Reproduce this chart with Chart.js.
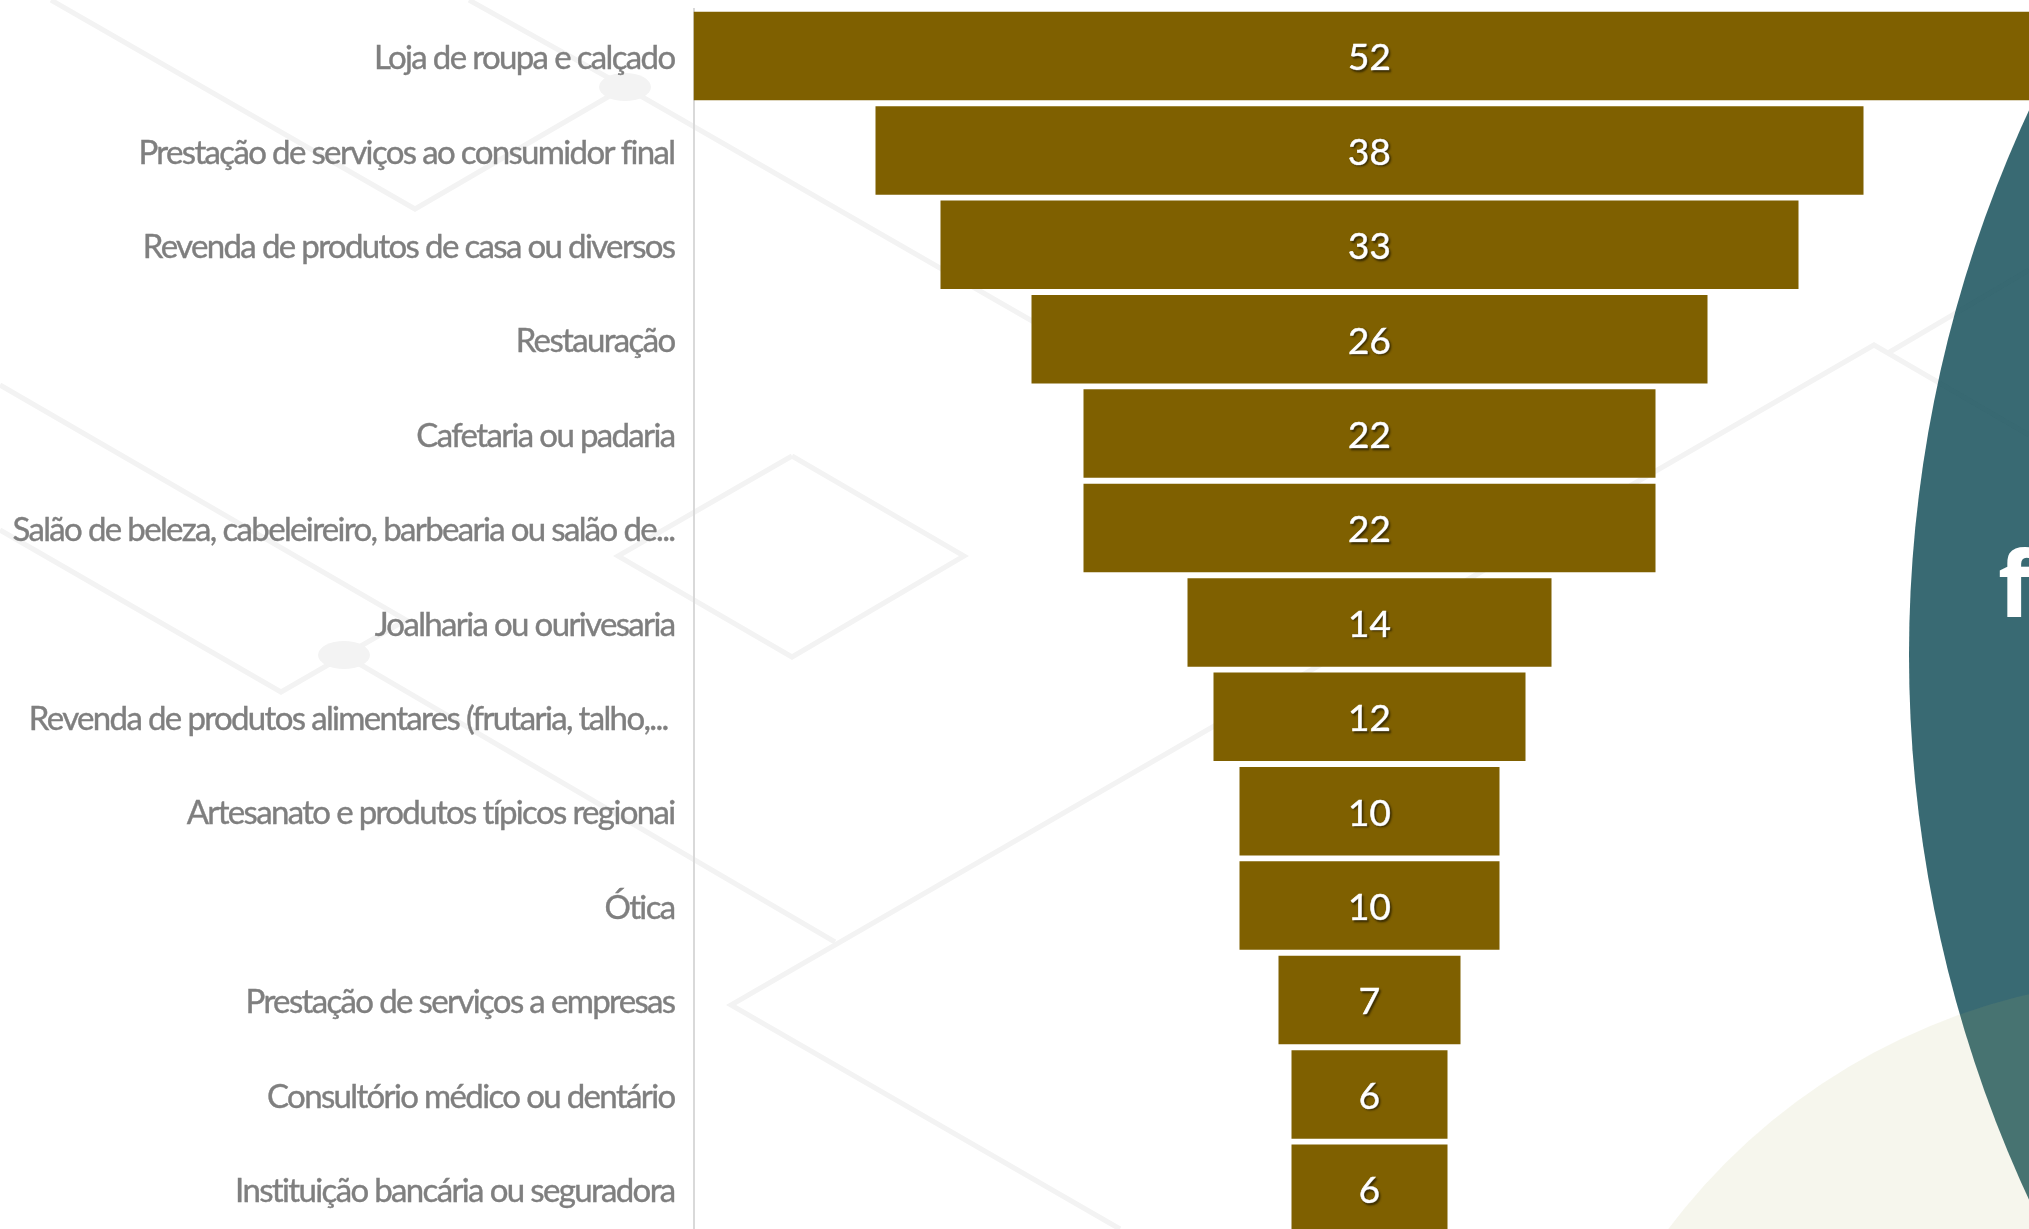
<!DOCTYPE html>
<html lang="pt">
<head>
<meta charset="utf-8">
<title>Funil</title>
<script src="https://cdn.jsdelivr.net/npm/chart.js@4"></script>
<style>
html, body { margin: 0; padding: 0; width: 2029px; height: 1229px; overflow: hidden; background: #fff; }
canvas { position: absolute; left: 0; top: 0; }
</style>
</head>
<body>
<canvas id="funnel-chart" width="2060" height="1250" style="width:2060px;height:1250px"></canvas>
<script>
const categories = [
    'Loja de roupa e calçado',
    'Prestação de serviços ao consumidor final',
    'Revenda de produtos de casa ou diversos',
    'Restauração',
    'Cafetaria ou padaria',
    'Salão de beleza, cabeleireiro, barbearia ou salão de...',
    'Joalharia ou ourivesaria',
    'Revenda de produtos alimentares (frutaria, talho,... ',
    'Artesanato e produtos típicos regionai',
    'Ótica',
    'Prestação de serviços a empresas',
    'Consultório médico ou dentário',
    'Instituição bancária ou seguradora'
];
const values = [52, 38, 33, 26, 22, 22, 14, 12, 10, 10, 7, 6, 6];

// page decoration behind the chart
const decorLines = [
    [[51, 0], [415, 209], [625, 87]],
    [[469, 0], [625, 87], [1100, 360]],
    [[0, 385], [406, 620], [281, 692], [0, 530]],
    [[344, 655], [835, 942]],
    [[1120, 1229], [731, 1005], [1874, 345], [2029, 435]],
    [[1888, 353], [2029, 270]],
    [[792, 456], [964, 556], [792, 657], [618, 556], [792, 456]]
];
const decorDots = [[625, 87], [344, 655]];

const decorPlugin = {
    id: 'decor',
    beforeDraw(chart) {
        const ctx = chart.ctx;
        ctx.save();
        ctx.strokeStyle = '#f3f3f3';
        ctx.lineWidth = 5;
        ctx.lineJoin = 'miter';
        decorLines.forEach(line => {
            ctx.beginPath();
            line.forEach(([x, y], i) => i ? ctx.lineTo(x, y) : ctx.moveTo(x, y));
            ctx.stroke();
        });
        ctx.fillStyle = '#f3f3f3';
        decorDots.forEach(([x, y]) => {
            ctx.beginPath();
            ctx.ellipse(x, y, 26, 14, 0, 0, Math.PI * 2);
            ctx.fill();
        });
        ctx.fillStyle = 'rgba(22, 80, 90, 0.85)';
        ctx.beginPath();
        ctx.arc(3206, 655, 1297, 0, Math.PI * 2);
        ctx.fill();
        ctx.fillStyle = 'rgba(180, 180, 100, 0.116)';
        ctx.beginPath();
        ctx.arc(2171, 1607, 629, 0, Math.PI * 2);
        ctx.fill();
        ctx.fillStyle = '#fff';
        ctx.font = 'bold 92px "Open Sans"';
        ctx.textAlign = 'left';
        ctx.textBaseline = 'alphabetic';
        ctx.fillText('f', 1998, 617);
        ctx.restore();
        ctx.letterSpacing = '-1.65px';
    }
};

const valueLabels = {
    id: 'valueLabels',
    afterDatasetsDraw(chart) {
        const ctx = chart.ctx;
        ctx.letterSpacing = '0px';
        ctx.save();
        ctx.font = '37px Lato';
        ctx.fillStyle = '#fff';
        ctx.strokeStyle = '#fff';
        ctx.lineWidth = 0.6;
        ctx.textAlign = 'center';
        ctx.textBaseline = 'middle';
        ctx.shadowColor = 'rgba(0, 0, 0, 0.5)';
        ctx.shadowOffsetX = 1.5;
        ctx.shadowOffsetY = 1.5;
        ctx.shadowBlur = 2;
        chart.getDatasetMeta(0).data.forEach((bar, i) => {
            const c = bar.getCenterPoint();
            ctx.strokeText(String(values[i]), c.x, c.y + 2.5);
            ctx.fillText(String(values[i]), c.x, c.y + 2.5);
        });
        ctx.restore();
    }
};

new Chart(document.getElementById('funnel-chart'), {
    type: 'bar',
    data: {
        labels: categories,
        datasets: [{
            data: values.map(v => [-v / 2, v / 2]),
            backgroundColor: '#7f6000',
            borderWidth: 0,
            barPercentage: 0.937,
            categoryPercentage: 1
        }]
    },
    options: {
        indexAxis: 'y',
        responsive: false,
        animation: false,
        devicePixelRatio: 1,
        layout: { padding: { top: 8.8, bottom: 14, left: 0, right: 14.5 } },
        plugins: { legend: { display: false }, tooltip: { enabled: false } },
        scales: {
            x: { display: false, min: -26, max: 26 },
            y: {
                afterFit(scale) {
                    scale.width = 693.5;
                    scale.paddingTop = 0;
                    scale.paddingBottom = 0;
                },
                grid: { drawTicks: false, drawOnChartArea: false },
                border: { display: true, color: '#d9d9d9', width: 2 },
                ticks: {
                    padding: 19,
                    labelOffset: 2.5,
                    color: '#7f7f7f',
                    textStrokeColor: '#7f7f7f',
                    textStrokeWidth: 0.4,
                    font: { family: 'Lato', size: 33 },
                    autoSkip: false,
                    maxRotation: 0,
                    minRotation: 0
                }
            }
        }
    },
    plugins: [decorPlugin, valueLabels]
});
</script>
</body>
</html>
